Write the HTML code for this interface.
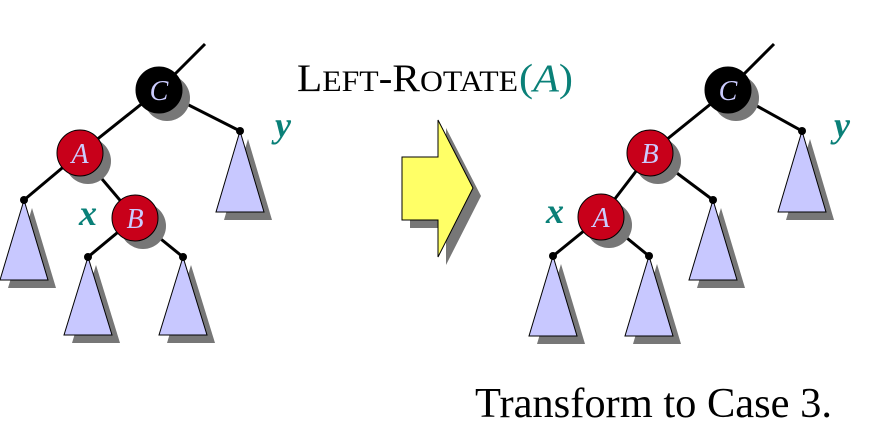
<!DOCTYPE html>
<html><head><meta charset="utf-8"><style>
html,body{margin:0;padding:0;background:#fff;}
svg{display:block;}
text{font-family:"Liberation Serif",serif;}
</style></head><body>
<svg width="869" height="436" viewBox="0 0 869 436">
<g id="scene"></g>
<text x="297" y="91" font-size="39" fill="#000" textLength="221" lengthAdjust="spacingAndGlyphs">L<tspan font-size="30">EFT</tspan>-R<tspan font-size="30">OTATE</tspan></text>
<text x="519" y="91" font-size="39" fill="#0a8078" textLength="54" lengthAdjust="spacingAndGlyphs">(<tspan font-style="italic">A</tspan>)</text>
<g>
<polygon points="410,165 446,165 446,128 481,196 446,265 446,228 410,228" fill="#777"/>
<polygon points="402,157 438,157 438,120 473,188 438,257 438,220 402,220" fill="#ffff66" stroke="#000" stroke-width="1"/>
</g>
<text x="475" y="417" font-size="42" fill="#000" textLength="357" lengthAdjust="spacingAndGlyphs">Transform to Case 3.</text>
</svg>
<script>
const NS='http://www.w3.org/2000/svg';
const scene=document.getElementById('scene');
function el(tag,attrs,parent){const e=document.createElementNS(NS,tag);for(const k in attrs)e.setAttribute(k,attrs[k]);(parent||scene).appendChild(e);return e;}
const trees=[
 {name:'before',top:[205,44],nodes:[['C',159,90,'#000'],['A',80,153,'#c8001a'],['B',135,218,'#c8001a']],
  edges:[[0,1],[1,2]],
  leaves:[[0,240,131,81],[1,24,200,80],[2,88,257,78],[2,183,257,78]],
  labels:[['y',283,137],['x',88,225]]},
 {name:'after',top:[774,44],nodes:[['C',728,90,'#000'],['B',650,153,'#c8001a'],['A',601,217,'#c8001a']],
  edges:[[0,1],[1,2]],
  leaves:[[0,802,131,81],[1,713,200,80],[2,553,256,80],[2,649,256,80]],
  labels:[['y',842,137],['x',555,223]]}
];
trees.forEach(t=>{
 const g=el('g',{});
 
 
 const n0=t.nodes[0];
 el('line',{x1:n0[1],y1:n0[2],x2:t.top[0],y2:t.top[1],stroke:'#000','stroke-width':3},g);
 t.edges.forEach(e=>{const a=t.nodes[e[0]],b=t.nodes[e[1]];el('line',{x1:a[1],y1:a[2],x2:b[1],y2:b[2],stroke:'#000','stroke-width':3},g);});
 t.leaves.forEach(l=>{const p=t.nodes[l[0]];el('line',{x1:p[1],y1:p[2],x2:l[1],y2:l[2],stroke:'#000','stroke-width':3},g);});
 t.leaves.forEach((l,i)=>{
  const sg=el('g',{},g);
  
  
  const x=l[1],y=l[2],h=l[3];
  el('polygon',{points:`${x+8},${y+8} ${x-16},${y+h+8} ${x+32},${y+h+8}`,fill:'#777'},sg);
  el('polygon',{points:`${x},${y} ${x-24},${y+h} ${x+24},${y+h}`,fill:'#c8c8ff',stroke:'#000','stroke-width':1},sg);
  el('circle',{cx:x,cy:y,r:4,fill:'#000'},sg);
 });
 t.nodes.forEach(n=>{
  const ng=el('g',{},g);
  
  
  el('circle',{cx:n[1]+8,cy:n[2]+8,r:23,fill:'#777'},ng);
  el('circle',{cx:n[1],cy:n[2],r:23,fill:n[3],stroke:'#000','stroke-width':1},ng);
  const tx=el('text',{x:n[1],y:n[2]+10,'font-size':28,'font-style':'italic','text-anchor':'middle',fill:'#ccccff'},ng);
  tx.textContent=n[0];
 });
 t.labels.forEach(lb=>{
  const tx=el('text',{x:lb[1],y:lb[2],'font-size':36,'font-style':'italic','font-weight':'bold','text-anchor':'middle',fill:'#0a8078'},g);
  
  
  tx.textContent=lb[0];
 });
});
</script>
</body></html>
